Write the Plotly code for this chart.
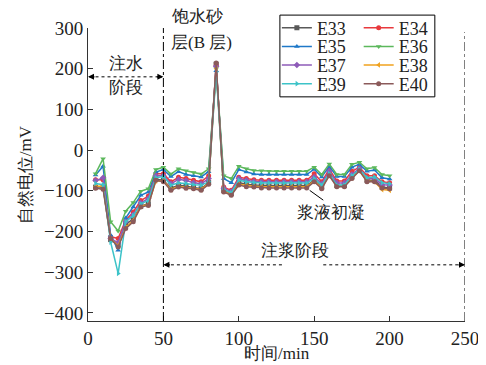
import plotly.graph_objects as go

time_min = [5, 10, 15, 20, 25, 30, 35, 40, 45, 50, 55, 60, 65, 70, 75, 80, 85, 90, 95, 100,
            105, 110, 115, 120, 125, 130, 135, 140, 145, 150, 155, 160, 165, 170, 175, 180, 185, 190, 195, 200]

E33 = [-91, -91, -220, -233, -183, -169, -138, -132, -72, -74, -94, -86, -89, -92, -95, -80, 211, -99, -107, -80,
       -84, -86, -87, -87, -87, -87, -87, -87, -87, -74, -91, -60, -87, -87, -66, -49, -74, -74, -91, -93]
E34 = [-73, -73, -213, -217, -172, -152, -124, -113, -58, -58, -78, -67, -70, -74, -78, -63, 208, -91, -99, -67,
       -70, -73, -74, -74, -74, -74, -74, -74, -74, -58, -78, -47, -76, -76, -52, -42, -63, -63, -78, -80]
E35 = [-61, -40, -209, -246, -167, -140, -111, -103, -54, -48, -65, -53, -60, -63, -66, -53, 195, -70, -80, -48,
       -54, -59, -60, -60, -60, -60, -60, -60, -60, -47, -66, -40, -65, -65, -42, -35, -52, -49, -68, -71]
E36 = [-58, -21, -176, -199, -150, -129, -101, -95, -48, -42, -59, -46, -51, -55, -59, -46, 200, -63, -70, -40,
       -46, -50, -51, -52, -52, -52, -52, -52, -52, -42, -60, -34, -60, -60, -35, -30, -46, -43, -60, -63]
E37 = [-75, -68, -217, -228, -176, -159, -130, -119, -63, -63, -83, -72, -75, -80, -83, -70, 206, -94, -102, -70,
       -74, -77, -78, -78, -78, -78, -78, -78, -78, -66, -83, -52, -81, -81, -60, -45, -70, -70, -85, -86]
E38 = [-89, -89, -218, -235, -190, -173, -138, -134, -76, -76, -97, -89, -92, -94, -97, -82, 200, -101, -109, -84,
       -87, -89, -90, -90, -90, -90, -90, -90, -90, -76, -93, -62, -89, -89, -68, -51, -76, -78, -97, -99]
E39 = [-82, -85, -226, -303, -176, -161, -132, -124, -68, -65, -86, -81, -82, -85, -86, -78, 192, -97, -105, -74,
       -78, -80, -81, -81, -81, -81, -81, -81, -81, -70, -86, -58, -86, -86, -63, -47, -68, -66, -80, -83]
E40 = [-94, -96, -217, -238, -193, -176, -140, -136, -74, -78, -99, -91, -94, -95, -99, -84, 214, -103, -111, -86,
       -90, -91, -93, -93, -93, -93, -93, -93, -93, -78, -95, -63, -90, -90, -70, -51, -78, -78, -93, -95]

series_names = ["E33", "E34", "E35", "E36", "E37", "E38", "E39", "E40"]
series_values = [E33, E34, E35, E36, E37, E38, E39, E40]
colors = ["#595959", "#e8393d", "#1f78c8", "#5cb85c", "#8e5bb8", "#f0a21e", "#3cc3c8", "#8b5a5a"]
symbols = ["square", "circle", "triangle-up", "triangle-down", "diamond", "triangle-left", "triangle-right", "circle"]

x_ticks = [0, 50, 100, 150, 200, 250]
y_ticks = [-400, -300, -200, -100, 0, 100, 200, 300]
y_tick_text = ["−400", "−300", "−200", "−100", "0", "100", "200", "300"]

FONT = "Liberation Serif"
TXT = "#222"

# one single-entry legend per series, laid out as a 2-column grid
legend_cols = [0.501, 0.718]
legend_rows = [1.0, 0.936, 0.873, 0.809]

fig = go.Figure()
legend_layout = {}
for i, (name, vals, c, s) in enumerate(zip(series_names, series_values, colors, symbols)):
    lid = "legend" if i == 0 else f"legend{i + 1}"
    fig.add_trace(go.Scatter(x=time_min, y=vals, name=name, mode="lines+markers", legend=lid,
                             line=dict(color=c, width=1.5),
                             marker=dict(color=c, symbol=s, size=5)))
    legend_layout[lid] = dict(x=legend_cols[i % 2], y=legend_rows[i // 2], xanchor="left", yanchor="middle",
                              orientation="v", bgcolor="rgba(0,0,0,0)", borderwidth=0,
                              font=dict(family=FONT, size=18, color=TXT), itemwidth=30)

# vertical dash-dot stage separators
fig.add_shape(type="line", x0=50, x1=50, y0=-420, y1=300, xref="x", yref="y",
              line=dict(color="black", width=1, dash="dashdot"))
fig.add_shape(type="line", x0=250, x1=250, y0=-420, y1=290, xref="x", yref="y",
              line=dict(color="black", width=1, dash="dashdot"))

# dotted stage arrows
fig.add_shape(type="line", x0=1, x1=49, y0=180, y1=180, xref="x", yref="y",
              line=dict(color="black", width=1, dash="dot"))
fig.add_shape(type="line", x0=51, x1=129, y0=-282, y1=-282, xref="x", yref="y",
              line=dict(color="black", width=1, dash="dot"))
fig.add_shape(type="line", x0=156, x1=249, y0=-282, y1=-282, xref="x", yref="y",
              line=dict(color="black", width=1, dash="dot"))

def head(x, y, dx):
    fig.add_annotation(x=x, y=y, ax=dx, ay=0, xref="x", yref="y", axref="pixel", ayref="pixel",
                       text="", showarrow=True, arrowhead=2, arrowsize=1, arrowwidth=1.2,
                       arrowcolor="black", standoff=0)

head(0, 180, 8)
head(50, 180, -8)
head(50, -282, 8)
head(250, -282, -8)

def label(x, y, text, anchor="center", yref="y"):
    fig.add_annotation(x=x, y=y, text=text, showarrow=False, xref="x", yref=yref,
                       xanchor=anchor, yanchor="middle", font=dict(family=FONT, size=17, color=TXT))

label(25, 212, "注水")
label(25, 155, "阶段")
label(54, 1.038, "饱水砂", "left", "paper")
label(54, 0.952, "层(B 层)", "left", "paper")
label(137, -246, "注浆阶段")
label(161, -153, "浆液初凝")
fig.add_shape(type="line", x0=147, x1=156, y0=-99, y1=-123, xref="x", yref="y",
              line=dict(color="black", width=1))

# legend frame spanning both legend columns
fig.add_shape(type="rect", xref="paper", yref="paper", x0=0.509, x1=0.920, y0=0.765, y1=1.044,
              line=dict(color="black", width=1), fillcolor="white", layer="above")

# axis titles
fig.add_annotation(x=0.501, y=-0.112, xref="paper", yref="paper", text="时间/min", showarrow=False,
                   xanchor="center", yanchor="middle", font=dict(family=FONT, size=17, color=TXT))
fig.add_annotation(x=-0.167, y=0.498, xref="paper", yref="paper", text="自然电位/mV", showarrow=False,
                   xanchor="center", yanchor="middle", textangle=-90,
                   font=dict(family=FONT, size=17, color=TXT))

# page body adds an 8 px offset, so margins are reduced accordingly
fig.update_layout(
    width=478, height=357,
    margin=dict(l=80, r=21, t=20, b=44, autoexpand=False),
    paper_bgcolor="white", plot_bgcolor="white",
    font=dict(family=FONT, size=18, color=TXT),
    showlegend=True,
    xaxis=dict(range=[0, 250], tickvals=x_ticks, automargin=False,
               ticks="inside", ticklen=5, tickcolor="#333", showgrid=False, zeroline=False,
               showline=True, linecolor="#333", linewidth=1,
               tickfont=dict(family=FONT, size=19, color=TXT)),
    yaxis=dict(range=[-420, 300], tickvals=y_ticks, ticktext=y_tick_text, automargin=False,
               ticks="inside", ticklen=5, tickcolor="#333", showgrid=False, zeroline=False,
               showline=True, linecolor="#333", linewidth=1,
               tickfont=dict(family=FONT, size=19, color=TXT)),
    **legend_layout,
)

fig.write_html("out.html")
